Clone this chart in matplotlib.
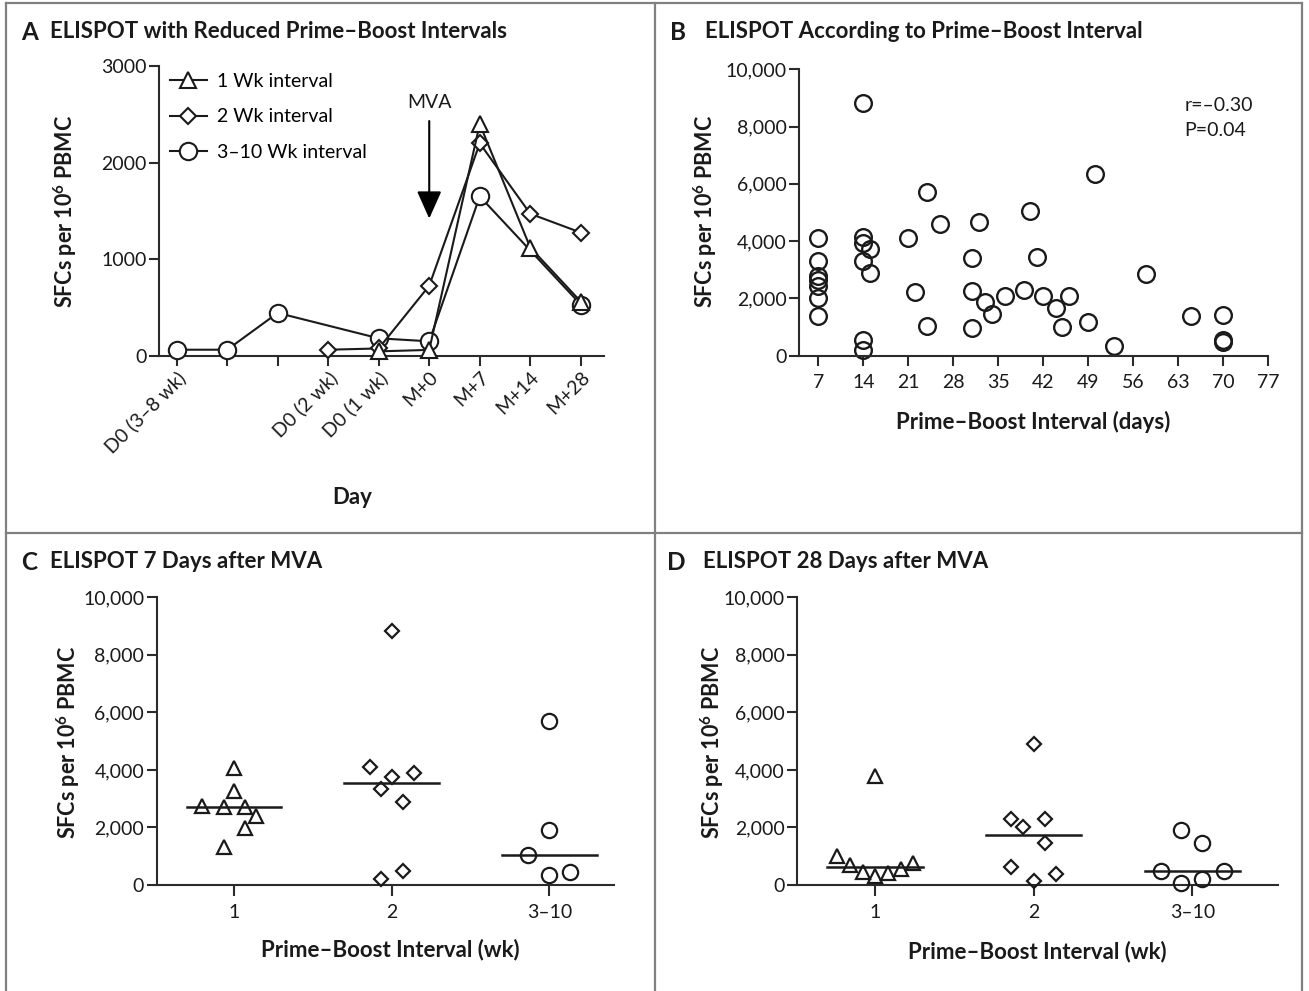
import matplotlib
matplotlib.use('Agg')
import matplotlib.pyplot as plt
from matplotlib.lines import Line2D
import numpy as np

# ---- panel A: mean ELISPOT time course ----
day_labels = ['D0 (3–8 wk)', '', '', 'D0 (2 wk)', 'D0 (1 wk)', 'M+0', 'M+7', 'M+14', 'M+28']
wk1_pos = [4, 5, 6, 7, 8]
wk1_sfc = [45, 60, 2400, 1120, 560]
wk2_pos = [3, 4, 5, 6, 7, 8]
wk2_sfc = [62, 75, 725, 2200, 1470, 1275]
wk310_pos = [0, 1, 2, 4, 5, 6, 8]
wk310_sfc = [62, 62, 443, 180, 149, 1650, 530]
legend_labels = ['1 Wk interval', '2 Wk interval', '3–10 Wk interval']

# ---- panel B: SFCs vs prime-boost interval ----
interval_days = [7, 7, 7, 7, 7, 7, 7,
                 14, 14, 14, 15, 14, 15, 14, 14,
                 21, 22, 24, 24, 26,
                 31, 31, 31, 32, 33, 34, 36,
                 39, 40, 41, 42, 44, 45, 46,
                 49, 50, 53, 58, 65, 70, 70, 70]
sfc_by_day = [4100, 3300, 2800, 2650, 2450, 2000, 1400,
              8830, 4130, 3930, 3730, 3310, 2880, 550, 200,
              4110, 2240, 5720, 1040, 4600,
              3410, 2260, 950, 4680, 1890, 1450, 2070,
              2300, 5040, 3440, 2070, 1660, 990, 2070,
              1190, 6360, 340, 2850, 1380, 1410, 560, 480]
corr_text = ['r=–0.30', 'P=0.04']

# ---- panels C and D: per-group values (jitter = horizontal spread within group) ----
groups = ['1', '2', '3–10']
c_wk1 = [4080, 3280, 2750, 2700, 2720, 2400, 1970, 1330]
c_wk1_jit = [0, 0, -0.2, -0.065, 0.07, 0.14, 0.07, -0.065]
c_wk2 = [8830, 4090, 3760, 3900, 3340, 2880, 490, 220]
c_wk2_jit = [0, -0.14, 0, 0.14, -0.07, 0.07, 0.07, -0.07]
c_wk310 = [5710, 1900, 1030, 340, 450]
c_wk310_jit = [0, 0, -0.135, 0, 0.13]

d_wk1 = [3800, 1000, 700, 450, 330, 420, 560, 770]
d_wk1_jit = [0, -0.24, -0.16, -0.075, 0, 0.08, 0.165, 0.24]
d_wk2 = [4910, 2280, 2020, 2300, 1450, 620, 370, 140]
d_wk2_jit = [0, -0.14, -0.066, 0.07, 0.07, -0.14, 0.14, 0]
d_wk310 = [1900, 1470, 490, 490, 60, 200]
d_wk310_jit = [-0.074, 0.06, -0.2, 0.2, -0.074, 0.06]

W, H = 1309, 991
plt.rcParams['font.family'] = ['Lato', 'DejaVu Sans']
plt.rcParams['mathtext.fontset'] = 'custom'
plt.rcParams['mathtext.rm'] = 'Lato'
plt.rcParams['mathtext.bf'] = 'Lato:bold'
plt.rcParams['mathtext.it'] = 'Lato:italic'

INK = '#1a1a1a'
AX = '#2b2b2b'
TICK_FS = 14
LAB_FS = 16
TITLE_FS = 16
YLAB = r'SFCs per 10$^{\mathbf{6}}$ PBMC'


def rect(l, t, r, b):
    # pixel box -> figure fraction [left, bottom, width, height]
    return [l / W, 1 - b / H, (r - l) / W, (b - t) / H]


def style(ax):
    for s in ['top', 'right']:
        ax.spines[s].set_visible(False)
    for s in ['left', 'bottom']:
        ax.spines[s].set_linewidth(1.5)
        ax.spines[s].set_color(AX)
    ax.tick_params(direction='out', length=7, width=1.5, color=AX,
                   labelsize=TICK_FS, labelcolor=INK, pad=2)


def labels(ax, ylab_xy, xlab, xlab_xy):
    ax.set_ylabel(YLAB, fontsize=LAB_FS - 0.5, fontweight='bold', color=INK)
    ax.yaxis.set_label_coords(ylab_xy[0] / W, 1 - ylab_xy[1] / H, transform=fig.transFigure)
    ax.yaxis.label.set_va('center')
    ax.set_xlabel(xlab, fontsize=LAB_FS, fontweight='bold', color=INK)
    ax.xaxis.set_label_coords(xlab_xy[0] / W, 1 - xlab_xy[1] / H, transform=fig.transFigure)
    ax.xaxis.label.set_va('center')


def title(letter, text, x_letter, x_text, y):
    fig.text(x_letter / W, 1 - y / H, letter, fontsize=TITLE_FS + 1.5, fontweight='bold',
             color=INK, va='center', ha='left')
    fig.text(x_text / W, 1 - y / H, text, fontsize=TITLE_FS, fontweight='bold',
             color=INK, va='center', ha='left')


fig = plt.figure(figsize=(W / 100, H / 100), dpi=100)

# panel frame lines
frame = '#808080'
for xs, ys in [([6, 1302], [3, 3]), ([6, 6], [3, 991]), ([1302, 1302], [3, 991]),
               ([655, 655], [3, 991]), ([6, 1302], [533, 533])]:
    fig.add_artist(Line2D([x / W for x in xs], [1 - y / H for y in ys],
                          color=frame, lw=1.6, transform=fig.transFigure))

# ---------------- A ----------------
axA = fig.add_axes(rect(159, 66, 604, 355.7))
style(axA)
mk = dict(color=INK, lw=1.5, mec=INK, mfc='white', mew=1.5, clip_on=False)
hA1, = axA.plot(wk1_pos, wk1_sfc, marker='^', ms=12, zorder=5, **mk)
hA2, = axA.plot(wk2_pos, wk2_sfc, marker='D', ms=8.5, zorder=4, **mk)
hA3, = axA.plot(wk310_pos, wk310_sfc, marker='o', ms=12.5, zorder=3, **mk)
axA.set_xlim(-0.35, 8.46)
axA.set_ylim(0, 3000)
axA.set_yticks([0, 1000, 2000, 3000])
axA.set_xticks(range(len(day_labels)))
axA.set_xticklabels(day_labels, rotation=45, ha='right', va='top', rotation_mode='anchor')
axA.annotate('', xy=(5, 1420), xytext=(5, 2430),
             arrowprops=dict(arrowstyle='-|>,head_length=0.85,head_width=0.38',
                             mutation_scale=20, lw=1.5, color='black',
                             shrinkA=0, shrinkB=0))
axA.text(5, 2620, 'MVA', ha='center', va='center', fontsize=TICK_FS, color=INK)
axA.legend([hA1, hA2, hA3], legend_labels, loc='upper left',
           bbox_to_anchor=(170 / W, 1 - 73 / H), bbox_transform=fig.transFigure,
           frameon=False, borderpad=0, borderaxespad=0, handlelength=1.9,
           handletextpad=0.5, labelspacing=0.95, fontsize=TICK_FS)
labels(axA, (65, 211), 'Day', (352, 497))
title('A', 'ELISPOT with Reduced Prime–Boost Intervals', 21, 50, 32)

# ---------------- B ----------------
axB = fig.add_axes(rect(799, 69.3, 1268, 355.7))
style(axB)
axB.plot(interval_days, sfc_by_day, ls='none', marker='o', ms=12, mfc='none',
         mec=INK, mew=1.7, clip_on=False)
axB.set_xlim(4, 77)
axB.set_ylim(0, 10000)
axB.set_xticks(range(7, 78, 7))
axB.set_yticks(range(0, 10001, 2000))
axB.set_yticklabels([f'{v:,}' for v in range(0, 10001, 2000)])
axB.tick_params(axis='x', pad=6)
axB.text(64, 8750, corr_text[0], va='center', ha='left', fontsize=TICK_FS, color=INK)
axB.text(64, 7880, corr_text[1], va='center', ha='left', fontsize=TICK_FS, color=INK)
labels(axB, (705, 211), 'Prime–Boost Interval (days)', (1033, 422))
title('B', 'ELISPOT According to Prime–Boost Interval', 670, 705, 32)


# ---------------- C / D ----------------
def dot_panel(box, data, ylab_xy, xlab_xy, xmax):
    ax = fig.add_axes(rect(*box))
    style(ax)
    markers = [('^', 10.5), ('D', 7.5), ('o', 11)]
    for i, ((vals, jit), (m, s)) in enumerate(zip(data, markers)):
        x = [i + 1 + j for j in jit]
        ax.plot(x, vals, ls='none', marker=m, ms=s, mfc='none', mec=INK, mew=1.6,
                clip_on=False, zorder=3)
        med = np.median(vals)
        ax.plot([i + 1 - 0.3, i + 1 + 0.3], [med, med], color=INK, lw=1.8, zorder=2)
    ax.set_xlim(0.51, xmax)
    ax.set_ylim(0, 10000)
    ax.set_xticks([1, 2, 3])
    ax.set_xticklabels(groups)
    ax.set_yticks(range(0, 10001, 2000))
    ax.set_yticklabels([f'{v:,}' for v in range(0, 10001, 2000)])
    ax.tick_params(axis='x', length=8, pad=6)
    labels(ax, ylab_xy, 'Prime–Boost Interval (wk)', xlab_xy)
    return ax


dot_panel((156.7, 597.3, 614, 885),
          [(c_wk1, c_wk1_jit), (c_wk2, c_wk2_jit), (c_wk310, c_wk310_jit)],
          (68, 742), (390, 950), 3.41)
title('C', 'ELISPOT 7 Days after MVA', 21, 50, 562)

dot_panel((797.3, 597.3, 1278, 885),
          [(d_wk1, d_wk1_jit), (d_wk2, d_wk2_jit), (d_wk310, d_wk310_jit)],
          (712, 742), (1037, 952), 3.54)
title('D', 'ELISPOT 28 Days after MVA', 667, 703, 562)

fig.savefig('out.png', dpi=100)
